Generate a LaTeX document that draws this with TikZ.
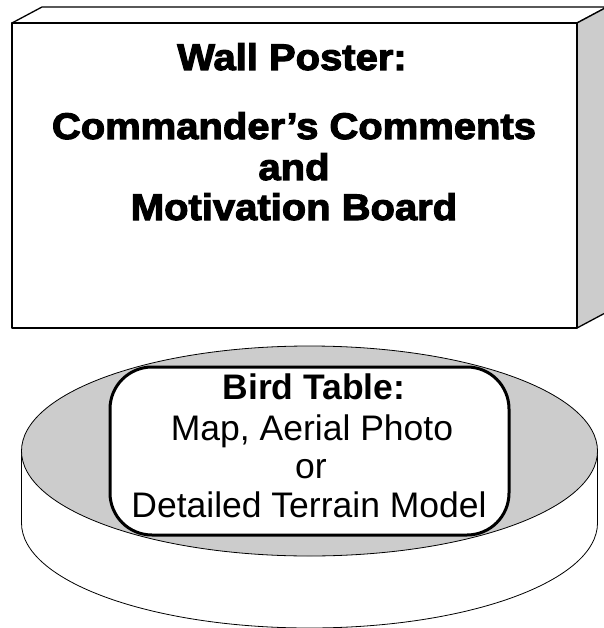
\documentclass[tikz,border=0pt]{standalone}
\usepackage{fontspec}
\usetikzlibrary{calc}
\setmainfont{Liberation Sans}
\newfontfamily\posterfont[FakeBold=3,FakeStretch=1.08]{Liberation Sans Bold}
\begin{document}
\begin{tikzpicture}[x=1pt,y=-1pt,
  edge/.style={draw=black,line width=1.3pt,line join=round},
  shade/.style={fill=black!20},
  postertext/.style={anchor=base,inner sep=0pt,font=\posterfont\fontsize{37}{40}\selectfont},
  tabletext/.style={anchor=base,inner sep=0pt,font=\fontsize{35.5}{38}\selectfont},
]
\useasboundingbox (0,0) rectangle (603,628);

% ---- wall poster: a flat box seen from the front ----
\coordinate (fl) at (12,23);
\coordinate (fr) at (577,23);
\coordinate (br) at (577,328);
\coordinate (bl) at (12,328);
\coordinate (d) at (30,-16);
\filldraw[edge,fill=white] (fl) -- ++(d) -- ($(fr)+(d)$) -- (fr) -- cycle;
\filldraw[edge,shade] (fr) -- ++(d) -- ($(br)+(d)$) -- (br) -- cycle;
\filldraw[edge,fill=white] (fl) rectangle (br);

\node[postertext] (title) at (292,70) {Wall Poster:};
\node[postertext] (line1) at (294,139) {Commander’s Comments};
\node[postertext] (line2) at (294,180) {and};
\node[postertext] (line3) at (294,220) {Motivation Board};

% ---- bird table: a flat cylinder ----
\def\rx{288}\def\ry{105}
\coordinate (topc) at (309.5,451);
\coordinate (botc) at (309.5,523);
\filldraw[draw=black,line width=0.8pt,fill=white]
  ($(topc)+(-\rx,0)$) -- ($(botc)+(-\rx,0)$)
  arc[start angle=180,end angle=0,x radius=\rx,y radius=\ry]
  -- ($(topc)+(\rx,0)$);
\filldraw[draw=black,line width=0.8pt,shade] (topc) ellipse[x radius=\rx,y radius=\ry];

\draw[line width=3pt,fill=white,rounded corners=42pt] (110,367) rectangle (509,535);

\node[tabletext,font=\bfseries\fontsize{35.5}{38}\selectfont] (bird) at (314,399) {Bird Table:};
\node[tabletext] (map) at (312,440) {Map, Aerial Photo};
\node[tabletext] (or) at (311,478) {or};
\node[tabletext] (model) at (309,517) {Detailed Terrain Model};
\end{tikzpicture}
\end{document}
